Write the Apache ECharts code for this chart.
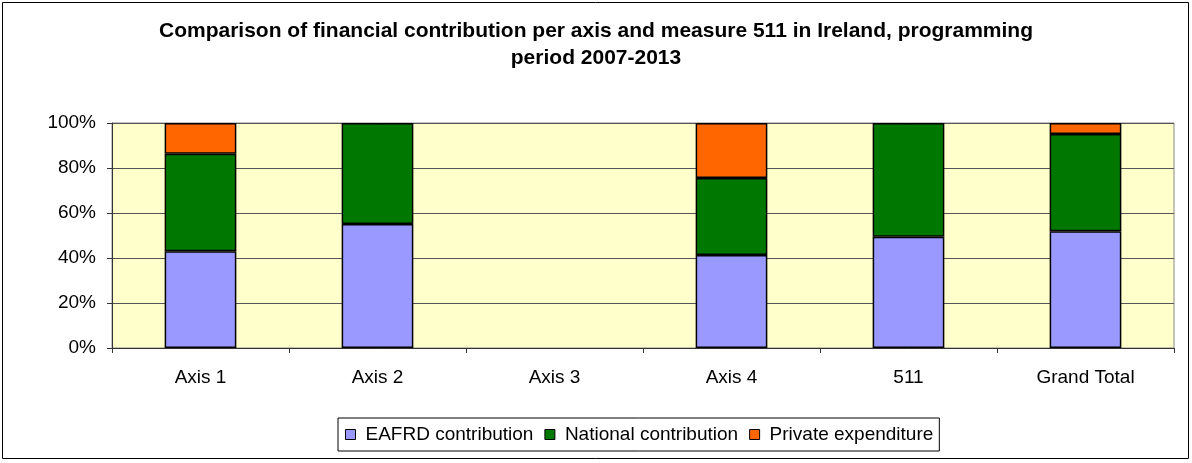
<!DOCTYPE html>
<html><head><meta charset="utf-8">
<script src="https://cdn.jsdelivr.net/npm/echarts@6/dist/echarts.min.js"></script>
<style>html,body{margin:0;padding:0;background:#fff}#c{width:1192px;height:463px}</style>
</head><body><div id="c"></div>
<script>
const categories = ['Axis 1', 'Axis 2', 'Axis 3', 'Axis 4', '511', 'Grand Total'];
const eafrd = [43.0, 55.1, null, 41.3, 49.5, 51.9];
const national = [43.3, 44.9, null, 34.3, 50.5, 43.2];
const privateExp = [13.7, null, null, 24.4, null, 4.9];
const yTicks = [0, 20, 40, 60, 80, 100];

const chart = echarts.init(document.getElementById('c'));
const font = 'Liberation Sans, Arial, sans-serif';
const mk = (name, data, color) => ({
  name, type: 'bar', stack: 's', data, barWidth: '40.5%',
  itemStyle: { color, borderColor: '#000', borderWidth: 1.5 }
});
chart.setOption({
  animation: false,
  textStyle: { fontFamily: font },
  title: {
    text: 'Comparison of financial contribution per axis and measure 511 in Ireland, programming\nperiod 2007-2013',
    left: 'center', top: 13,
    textStyle: { fontSize: 21, fontWeight: 'bold', color: '#000', lineHeight: 27, fontFamily: font }
  },
  graphic: [{ type: 'rect', shape: { x: 2.5, y: 2.5, width: 1186, height: 456 }, style: { fill: 'none', stroke: '#000', lineWidth: 1 }, silent: true }],
  legend: {
    top: 418, left: 338, itemWidth: 10, itemHeight: 10, itemGap: 11,
    padding: [7, 6, 7, 7], borderColor: '#000', borderWidth: 1,
    icon: 'rect',
    itemStyle: { borderColor: '#000', borderWidth: 1 },
    textStyle: { fontSize: 19, color: '#000', fontFamily: font, padding: [0, 0, 0, 5] },
    data: ['EAFRD contribution', 'National contribution', 'Private expenditure']
  },
  grid: { left: 112, right: 18, top: 123, bottom: 115, show: true, backgroundColor: '#FFFFCC', borderColor: '#888', borderWidth: 1 },
  xAxis: {
    type: 'category', data: categories,
    axisLine: { lineStyle: { color: '#333', width: 1 } },
    axisTick: { show: true, alignWithLabel: false, length: 5, lineStyle: { color: '#333' } },
    axisLabel: { fontSize: 19, color: '#000', margin: 20, fontFamily: font }
  },
  yAxis: {
    type: 'value', min: 0, max: 100, interval: 20,
    axisLine: { show: true, lineStyle: { color: '#333' } },
    axisTick: { show: true, length: 5, lineStyle: { color: '#333' } },
    axisLabel: { fontSize: 19, color: '#000', formatter: v => yTicks.includes(v) ? v + '%' : '', margin: 16, fontFamily: font },
    splitLine: { lineStyle: { color: '#555', width: 1 } }
  },
  series: [
    mk('EAFRD contribution', eafrd, '#9999FF'),
    mk('National contribution', national, '#007800'),
    mk('Private expenditure', privateExp, '#FF6600')
  ]
});
</script></body></html>
